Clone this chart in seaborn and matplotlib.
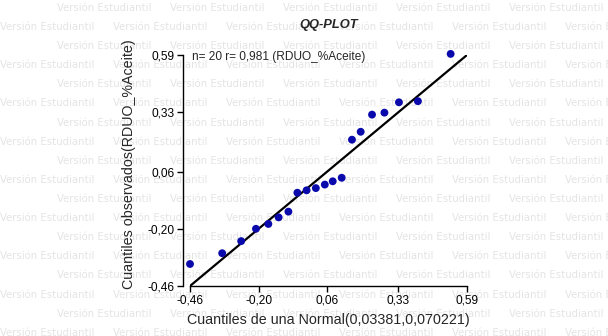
import matplotlib
matplotlib.use("Agg")
import matplotlib.pyplot as plt
import seaborn as sns
import numpy as np

# ---- data ----
theoretical_q = [-0.460, -0.338, -0.266, -0.210, -0.163, -0.124, -0.087, -0.053,
                 -0.018, 0.017, 0.051, 0.081, 0.115, 0.154, 0.187, 0.230,
                 0.277, 0.332, 0.404, 0.528]
observed_q = [-0.360, -0.311, -0.256, -0.200, -0.178, -0.148, -0.122, -0.036,
              -0.025, -0.015, 0.001, 0.016, 0.032, 0.205, 0.241, 0.319,
              0.328, 0.375, 0.380, 0.595]
ref_line_x = [-0.46, 0.59]
ref_line_y = [-0.46, 0.59]
tick_values = [-0.46, -0.20, 0.06, 0.33, 0.59]
tick_labels = ["-0,46", "-0,20", "0,06", "0,33", "0,59"]
title_text = "QQ-PLOT"
annot_text = "n= 20 r= 0,981 (RDUO_%Aceite)"
x_label = "Cuantiles de una Normal(0,03381,0,070221)"
y_label = "Cuantiles observados(RDUO_%Aceite)"
watermark = "Versión Estudiantil"

sns.set_style("ticks")
plt.rcParams["font.family"] = ["Liberation Sans", "DejaVu Sans"]

W, H = 608, 336
fig = plt.figure(figsize=(W / 100, H / 100), dpi=100, facecolor="white")

# watermark (behind everything)
for k in range(18):
    y = 8 + 19.1 * k
    x0 = 57 if k % 2 == 0 else 0
    for j in range(6):
        x = x0 + 113 * j
        if x > W:
            break
        fig.text(x / W, 1 - y / H, watermark, fontsize=7.3, color="#e4e4e4",
                 family="DejaVu Sans", ha="left", va="center", zorder=-5)

ax = fig.add_axes([190 / W, 1 - 286 / H, 277 / W, 231 / H])
ax.patch.set_alpha(0)

sns.lineplot(x=ref_line_x, y=ref_line_y, ax=ax, color="black", linewidth=1.6,
             zorder=2)
sns.scatterplot(x=theoretical_q, y=observed_q, ax=ax, color="#0a0aac", s=32,
                edgecolor="none", linewidth=0, zorder=3, clip_on=False)

ax.set_xlim(-0.46, 0.59)
ax.set_ylim(-0.46, 0.59)
ax.set_xticks(tick_values)
ax.set_xticklabels(tick_labels)
ax.set_yticks(tick_values)
ax.set_yticklabels(tick_labels)
ax.tick_params(axis="both", direction="out", length=4, width=1, pad=2,
               labelsize=8.6, colors="black")

sns.despine(ax=ax)
ax.spines["left"].set_position(("outward", 5))
for s in ("left", "bottom"):
    ax.spines[s].set_linewidth(1.0)
    ax.spines[s].set_color("black")

ax.set_xlabel(x_label, fontsize=10.3)
ax.set_ylabel(y_label, fontsize=10.3)
ax.xaxis.label.set_va("center")
ax.xaxis.set_label_coords(0.5, (286 - 320) / 231)
ax.yaxis.label.set_va("center")
ax.yaxis.set_label_coords((129 - 190) / 277, (286 - 164) / 231)

fig.text(328.5 / W, 1 - 25 / H, title_text, fontsize=9.3, fontweight="bold",
         fontstyle="italic", ha="center", va="center")
fig.text(192 / W, 1 - 57 / H, annot_text, fontsize=8.6, ha="left", va="center")

fig.savefig("out.png", dpi=100, facecolor="white")
